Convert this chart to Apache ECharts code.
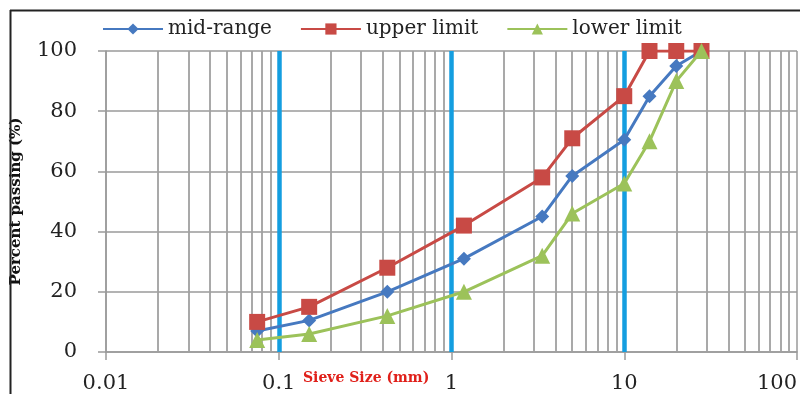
<!DOCTYPE html>
<html>
<head>
<meta charset="utf-8">
<script src="https://cdn.jsdelivr.net/npm/echarts@6/dist/echarts.min.js"></script>
<style>
html,body{margin:0;padding:0;background:#fff;}
#chart{width:800px;height:394px;}
</style>
</head>
<body>
<div id="chart"></div>
<script>
// Sieve sizes (mm)
var sieveSizes = [0.075, 0.15, 0.425, 1.18, 3.35, 5, 10, 14, 20, 28];
// Percent passing
var midRange   = [7, 10.5, 20, 31, 45, 58.5, 70.5, 85, 95, 100];
var upperLimit = [10, 15, 28, 42, 58, 71, 85, 100, 100, 100];
var lowerLimit = [4, 6, 12, 20, 32, 46, 56, 70, 90, 100];
var seriesNames = ['mid-range', 'upper limit', 'lower limit'];
var xTickLabels = ['0.01', '0.1', '1', '10', '100'];
var yTicks = [0, 20, 40, 60, 80, 100];
// grid helpers (log minor lines and highlighted decades)
var decades = [0.01, 0.1, 1, 10];
var highlightDecades = [0.1, 1, 10];
var minorMultipliers = [2, 3, 4, 5, 6, 7, 8, 9];

var minorLines = [];
decades.forEach(function (d) {
  minorMultipliers.forEach(function (m) { minorLines.push({ xAxis: d * m }); });
});
function pairs(xs, ys) { return xs.map(function (x, i) { return [x, ys[i]]; }); }

var serif = 'DejaVu Serif';
var chart = echarts.init(document.getElementById('chart'), null, { renderer: 'canvas' });
chart.setOption({
  animation: false,
  backgroundColor: '#fff',
  graphic: [{
    type: 'line', z: 100, silent: true,
    shape: { x1: 10, y1: 10.5, x2: 800, y2: 10.5 },
    style: { stroke: '#222', lineWidth: 2 }
  }, {
    type: 'line', z: 100, silent: true,
    shape: { x1: 10.5, y1: 10, x2: 10.5, y2: 394 },
    style: { stroke: '#222', lineWidth: 2 }
  }, {
    type: 'text', left: 303, top: 371,
    style: { text: 'Sieve Size (mm)', fill: '#e0201a', font: 'bold 14px "DejaVu Serif"' }
  }],
  legend: {
    left: 97, top: 14, itemWidth: 60, itemHeight: 14, itemGap: 28,
    data: seriesNames,
    textStyle: { fontFamily: serif, fontSize: 20, color: '#222' }
  },
  grid: { left: 106, right: 2, top: 51, bottom: 42 },
  xAxis: {
    type: 'log', logBase: 10, min: 0.01, max: 100,
    axisLine: { show: true, lineStyle: { color: '#9a9a9a', width: 1.5 } },
    axisTick: { show: true, length: 8, lineStyle: { color: '#9a9a9a', width: 1.5 } },
    splitLine: { show: true, lineStyle: { color: '#9a9a9a', width: 1.5 } },
    axisLabel: {
      fontFamily: serif, fontSize: 21, color: '#222', margin: 21, alignMaxLabel: 'right',
      formatter: function (v) {
        var k = Math.round(Math.log10(v)) + 2;
        return xTickLabels[k] !== undefined ? xTickLabels[k] : '';
      }
    }
  },
  yAxis: {
    type: 'value', min: 0, max: 100, interval: 20,
    name: 'Percent passing (%)', nameLocation: 'middle', nameGap: 82,
    nameTextStyle: { fontFamily: serif, fontSize: 15, fontWeight: 'bold', color: '#111' },
    axisLine: { show: true, lineStyle: { color: '#9a9a9a', width: 1.5 } },
    axisTick: { show: true, length: 8, lineStyle: { color: '#9a9a9a', width: 1.5 } },
    splitLine: { show: true, lineStyle: { color: '#9a9a9a', width: 1.5 } },
    axisLabel: { fontFamily: serif, fontSize: 21, color: '#222', margin: 29 }
  },
  series: [
    {
      name: 'grid-helper', type: 'line', data: [], silent: true, z: 1,
      markLine: {
        silent: true, symbol: 'none', animation: false,
        label: { show: false },
        data: minorLines,
        lineStyle: { color: '#a0a0a0', width: 1.8, type: 'solid' }
      }
    },
    {
      name: 'grid-highlight', type: 'line', data: [], silent: true, z: 2,
      markLine: {
        silent: true, symbol: 'none', animation: false,
        label: { show: false },
        data: highlightDecades.map(function (d) { return { xAxis: d }; }),
        lineStyle: { color: '#149ee0', width: 4.5, type: 'solid' }
      }
    },
    {
      name: seriesNames[0], type: 'line', z: 5,
      data: pairs(sieveSizes, midRange),
      symbol: 'diamond', symbolSize: 14,
      lineStyle: { color: '#4679c0', width: 3 },
      itemStyle: { color: '#4679c0' }
    },
    {
      name: seriesNames[1], type: 'line', z: 6,
      data: pairs(sieveSizes, upperLimit),
      symbol: 'rect', symbolSize: 16,
      lineStyle: { color: '#c84a45', width: 3 },
      itemStyle: { color: '#c84a45' }
    },
    {
      name: seriesNames[2], type: 'line', z: 7,
      data: pairs(sieveSizes, lowerLimit),
      symbol: 'triangle', symbolSize: 16,
      lineStyle: { color: '#9cc25a', width: 3 },
      itemStyle: { color: '#9cc25a' }
    }
  ]
});
</script>
</body>
</html>
